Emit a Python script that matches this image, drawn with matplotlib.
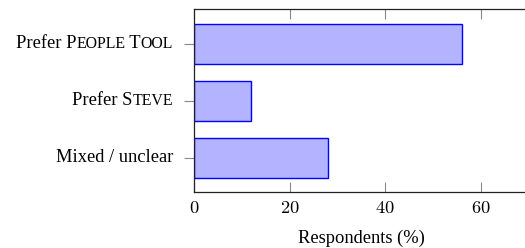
import matplotlib
matplotlib.use("Agg")
import matplotlib.pyplot as plt
from matplotlib.offsetbox import TextArea, HPacker, AnnotationBbox

# label pieces: (text, small caps?)
LABELS = [
    [("Prefer P", False), ("EOPLE", True), (" T", False), ("OOL", True)],
    [("Prefer S", False), ("TEVE", True)],
    [("Mixed / unclear", False)],
]
VALUES = [56, 12, 28]
XTICKS = [0, 20, 40, 60]

plt.rcParams["mathtext.fontset"] = "cm"
plt.rcParams["font.family"] = "Liberation Serif"
FS = 13.3

fig = plt.figure(figsize=(5.25, 2.48), dpi=100)
ax = fig.add_axes([194 / 525, 56 / 248, 334.6 / 525, 182.7 / 248])

ypos = list(range(len(VALUES)))[::-1]
ax.barh(ypos, VALUES, height=0.7, color="#b3b3ff", edgecolor="#0000ff", linewidth=1.0)

ax.set_xlim(0, 70)
ax.set_ylim(-0.6, 2.6)
ax.set_xticks(XTICKS)
ax.set_xticklabels([rf"${t}$" for t in XTICKS], fontsize=FS)
ax.set_yticks(ypos)
ax.set_yticklabels([])
ax.tick_params(axis="x", direction="in", top=True, length=7.5, width=0.8, color="#888888", pad=6)
ax.tick_params(axis="y", direction="out", length=7.5, width=0.8, color="#888888")
for s in ax.spines.values():
    s.set_color("#222222")
    s.set_linewidth(0.9)
ax.spines["right"].set_visible(False)

ax.set_xlabel("Respondents (%)", fontsize=FS, labelpad=9)

for y, pieces in zip(ypos, LABELS):
    parts = [TextArea(t, textprops=dict(fontsize=FS * 0.86 if sc else FS,
                                        family="Liberation Serif"))
             for t, sc in pieces]
    pack = HPacker(children=parts, align="baseline", pad=0, sep=0)
    ab = AnnotationBbox(pack, (0, y), xycoords=ax.get_yaxis_transform(),
                        xybox=(-15, 0), boxcoords="offset points",
                        box_alignment=(1, 0.5), frameon=False)
    ax.add_artist(ab)

fig.savefig("out.png", dpi=100)
